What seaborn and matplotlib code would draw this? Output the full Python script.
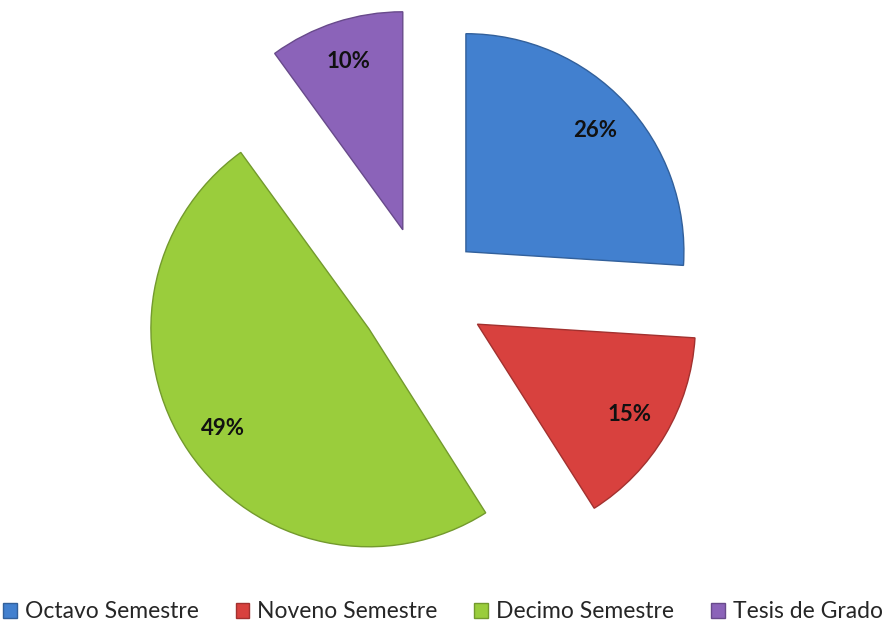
import matplotlib
matplotlib.use("Agg")
import matplotlib.pyplot as plt
import matplotlib.colors as mcolors
import seaborn as sns

# data
categorias = ['Octavo Semestre', 'Noveno Semestre', 'Decimo Semestre', 'Tesis de Grado']
porcentajes = [26, 15, 49, 10]
colores = ['#4280CF', '#D8413E', '#9ACD3C', '#8B63B9']
separacion = [0.27, 0.29, 0.30, 0.30]

sns.set_theme(style='white')
plt.rcParams['font.family'] = ['Lato', 'DejaVu Sans']

fig = plt.figure(figsize=(8.86, 6.35), dpi=100)
ax = fig.add_axes([0, 0, 1, 1])

wedges, texts, autotexts = ax.pie(
    porcentajes, colors=colores, explode=separacion, startangle=90,
    counterclock=False, radius=1, autopct='%1.0f%%', pctdistance=0.81,
    textprops={'fontsize': 16, 'fontweight': 'bold', 'color': '#111111'},
    wedgeprops={'linewidth': 1.0},
)

# darker outline per slice
for w, c in zip(wedges, colores):
    rgb = mcolors.to_rgb(c)
    w.set_edgecolor(tuple(v * 0.75 for v in rgb))

# 1 data unit = 218 px, pie centre at (423, 292) px from top-left
escala = 218.0
cx, cy = 423.0, 292.0
ax.set_xlim(-cx / escala, (886 - cx) / escala)
ax.set_ylim(-(635 - cy) / escala, cy / escala)
ax.set_aspect('auto')
ax.axis('off')

fig.legend(wedges, categorias, loc='center', bbox_to_anchor=(0.5, 1 - 612 / 635),
           ncol=4, frameon=False, fontsize=16.5, handlelength=0.6, handleheight=0.6,
           handletextpad=0.35, columnspacing=1.6, borderaxespad=0, borderpad=0)

fig.savefig('out.png', dpi=100)
